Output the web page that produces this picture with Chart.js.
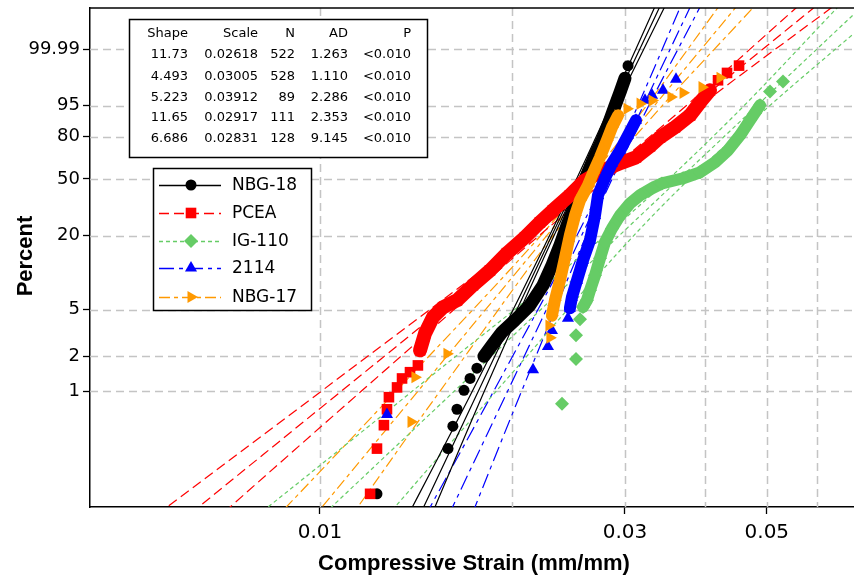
<!DOCTYPE html>
<html>
<head>
<meta charset="utf-8">
<script src="https://cdn.jsdelivr.net/npm/chart.js@4.4.1/dist/chart.umd.min.js"></script>
<style>
  html, body { margin: 0; padding: 0; background: #fff; }
  #wrap { width: 854px; height: 577px; }
</style>
</head>
<body>
<div id="wrap"><canvas id="chart" width="854" height="577"></canvas></div>
<script>
// axis ticks + grid
const X_TICKS = [0.01, 0.03, 0.05];
const X_GRID = [0.01, 0.02, 0.03, 0.04, 0.05, 0.06];
const Y_TICKS = [1, 2, 5, 20, 50, 80, 95, 99.99];
const Y_LABELS = ['1', '2', '5', '20', '50', '80', '95', '99.99'];

const SERIES = ['NBG-18', 'PCEA', 'IG-110', '2114', 'NBG-17'];

// stats table
const TABLE_HEAD = ['Shape', 'Scale', 'N', 'AD', 'P'];
const SHAPE = ['11.73', '4.493', '5.223', '11.65', '6.686'];
const SCALE = ['0.02618', '0.03005', '0.03912', '0.02917', '0.02831'];
const COUNT = ['522', '528', '89', '111', '128'];
const AD = ['1.263', '1.110', '2.286', '2.353', '9.145'];
const PVAL = ['<0.010', '<0.010', '<0.010', '<0.010', '<0.010'];

// observed points [strain, percent]
const NBG18 = [[0.01228, 0.13], [0.01586, 0.32], [0.01614, 0.50], [0.01638, 0.70], [0.01680, 1.02],
  [0.01717, 1.29], [0.01760, 1.58], [0.01805, 2.00], [0.01858, 2.48], [0.01926, 3.21], [0.02018, 4.06],
  [0.02130, 5.43], [0.02233, 7.99], [0.02307, 11.7], [0.02374, 16.9], [0.02435, 24.1], [0.02506, 33.7],
  [0.02570, 43.8], [0.02626, 54.7], [0.02693, 67.1], [0.02762, 77.7], [0.02822, 86.8], [0.02884, 94.1],
  [0.02947, 98.0], [0.03000, 99.43], [0.03033, 99.87]];
const PCEA = [[0.01198, 0.13], [0.01228, 0.32], [0.01259, 0.51], [0.01273, 0.70], [0.01282, 0.89],
  [0.01320, 1.08], [0.01344, 1.29], [0.01383, 1.46], [0.01423, 1.67], [0.01434, 2.25], [0.01460, 3.14],
  [0.01502, 4.30], [0.01558, 5.23], [0.01638, 5.98], [0.01735, 7.99], [0.01845, 10.6], [0.01961, 14.6],
  [0.02093, 19.5], [0.02208, 25.3], [0.02314, 31.0], [0.02460, 39.4], [0.02597, 49.1], [0.02771, 56.2],
  [0.02947, 61.2], [0.03121, 65.6], [0.03283, 73.6], [0.03403, 79.6], [0.03592, 85.7], [0.03792, 91.5],
  [0.03931, 95.9], [0.04075, 98.28], [0.04194, 99.30], [0.04332, 99.68], [0.04524, 99.87]];
const IG110 = [[0.02391, 0.78], [0.02515, 1.90], [0.02515, 3.02], [0.02551, 4.14], [0.02579, 5.26],
  [0.02616, 6.0], [0.02645, 7.25], [0.02693, 9.65], [0.02742, 13.3], [0.02791, 17.8], [0.02863, 22.8],
  [0.02947, 28.5], [0.03055, 34.7], [0.03167, 39.4], [0.03307, 43.8], [0.03428, 47.0], [0.03698, 50.5],
  [0.03931, 54.7], [0.04149, 62.0], [0.04348, 70.7], [0.04540, 80.9], [0.04706, 89.3], [0.04879, 95.1],
  [0.05058, 98.1], [0.05300, 99.22]];
const G2114 = [[0.01273, 0.63], [0.02154, 1.53], [0.02273, 2.42], [0.02306, 3.32], [0.02443, 4.22],
  [0.02460, 5.12], [0.02478, 6.34], [0.02524, 8.78], [0.02579, 12.8], [0.02645, 18.5], [0.02693, 28.5],
  [0.02722, 39.4], [0.02791, 50.5], [0.02863, 61.2], [0.02947, 70.7], [0.03033, 80.9], [0.03121, 89.3],
  [0.03224, 96.4], [0.03307, 97.5], [0.03440, 98.3], [0.03605, 99.37]];
const NBG17 = [[0.01388, 0.545], [0.01408, 1.32], [0.01580, 2.10], [0.02289, 2.88], [0.02281, 3.66],
  [0.02306, 4.44], [0.02331, 5.98], [0.02374, 8.78], [0.02416, 13.3], [0.02460, 20.2], [0.02506, 28.5],
  [0.02551, 36.4], [0.02626, 45.7], [0.02673, 54.0], [0.02742, 65.6], [0.02811, 77.7], [0.02863, 85.7],
  [0.02926, 91.5], [0.03022, 94.0], [0.03167, 95.56], [0.03307, 96.34], [0.03540, 97.12], [0.03698, 97.9],
  [0.03959, 98.68], [0.04224, 99.455]];

// index ranges where the points merge into a solid band
const BAND = [[7, 25], [9, 31], [4, 23], [5, 17], [5, 18]];

// fitted line and 95% bounds (strain) at these percents
const FIT_PCT = [0.05, 1, 30, 90, 99.99999999];
const NBG18_FIT = [0.013695, 0.017687, 0.023977, 0.028109, 0.034206];
const NBG18_LO = [0.013069, 0.017309, 0.023805, 0.027857, 0.033596];
const NBG18_HI = [0.014351, 0.018073, 0.024150, 0.028363, 0.034828];
const PCEA_FIT = [0.005536, 0.010794, 0.023889, 0.036179, 0.060401];
const PCEA_LO = [0.004881, 0.010044, 0.023463, 0.035406, 0.056610];
const PCEA_HI = [0.006279, 0.011600, 0.024323, 0.036969, 0.064446];
const IG110_FIT = [0.009129, 0.016214, 0.032113, 0.045893, 0.071319];
const IG110_LO = [0.007095, 0.013938, 0.030755, 0.043953, 0.065414];
const IG110_HI = [0.011746, 0.018861, 0.033531, 0.047919, 0.077757];
const G2114_FIT = [0.015191, 0.019654, 0.026700, 0.031335, 0.038183];
const G2114_LO = [0.013883, 0.018688, 0.026318, 0.030776, 0.036832];
const G2114_HI = [0.016622, 0.020670, 0.027087, 0.031904, 0.039584];
const NBG17_FIT = [0.009083, 0.014228, 0.024265, 0.032071, 0.045256];
const NBG17_LO = [0.007865, 0.013144, 0.023832, 0.031273, 0.042415];
const NBG17_HI = [0.010490, 0.015401, 0.024706, 0.032890, 0.048287];

const OBS = [NBG18, PCEA, IG110, G2114, NBG17];
const FITS = [
  [NBG18_LO, NBG18_FIT, NBG18_HI],
  [PCEA_LO, PCEA_FIT, PCEA_HI],
  [IG110_LO, IG110_FIT, IG110_HI],
  [G2114_LO, G2114_FIT, G2114_HI],
  [NBG17_LO, NBG17_FIT, NBG17_HI]
];

const STYLE = [
  { color: '#000000', point: 'circle', r: 5.5, rot: 0, dash: [], band: 13 },
  { color: '#ff0000', point: 'rect', r: 7.5, rot: 0, dash: [10, 5], band: 14 },
  { color: '#66cc66', point: 'rectRot', r: 7, rot: 0, dash: [4, 3], band: 12 },
  { color: '#0000ff', point: 'triangle', r: 7, rot: 0, dash: [15, 5, 4, 5], band: 12 },
  { color: '#ff9900', point: 'triangle', r: 7, rot: 90, dash: [11, 4, 4, 4], band: 12 }
];

// weibull probability transform
function weib(p) { return Math.log(-Math.log(1 - p / 100)); }
function toPts(list) { return list.map(([s, p]) => ({ x: s, y: weib(p) })); }
function toCurve(xs) { return xs.map((s, i) => ({ x: s, y: weib(FIT_PCT[i]) })); }

const datasets = [];
SERIES.forEach((name, i) => {
  const st = STYLE[i];
  FITS[i].forEach(xs => {
    datasets.push({
      data: toCurve(xs),
      showLine: true,
      borderColor: st.color,
      borderWidth: 1.2,
      borderDash: st.dash,
      pointRadius: 0,
      fill: false,
      cubicInterpolationMode: 'monotone',
      order: 100 + i
    });
  });
  const p = toPts(OBS[i]);
  datasets.push({
    data: p.slice(BAND[i][0], BAND[i][1]),
    showLine: true,
    borderColor: st.color,
    borderWidth: st.band,
    borderJoinStyle: 'round',
    borderCapStyle: 'round',
    pointRadius: 0,
    order: 50 - i * 2
  });
  datasets.push({
    label: name,
    data: p,
    showLine: false,
    pointStyle: st.point,
    pointRotation: st.rot,
    pointRadius: st.r,
    backgroundColor: st.color,
    borderColor: st.color,
    borderWidth: 0,
    order: 49 - i * 2
  });
});

function marker(ctx, st, x, y) {
  const r = st.r;
  ctx.beginPath();
  if (st.point === 'circle') {
    ctx.arc(x, y, r, 0, Math.PI * 2);
  } else if (st.point === 'rect') {
    const h = r * Math.SQRT1_2;
    ctx.rect(x - h, y - h, 2 * h, 2 * h);
  } else if (st.point === 'rectRot') {
    ctx.moveTo(x, y - r); ctx.lineTo(x + r, y); ctx.lineTo(x, y + r); ctx.lineTo(x - r, y);
  } else {
    let a = st.rot * Math.PI / 180;
    for (let k = 0; k < 3; k++) {
      const px = x + Math.sin(a) * r, py = y - Math.cos(a) * r;
      if (k === 0) ctx.moveTo(px, py); else ctx.lineTo(px, py);
      a += Math.PI * 2 / 3;
    }
  }
  ctx.closePath();
  ctx.fillStyle = st.color;
  ctx.fill();
}

// no label overhang padding, chart area fixed by axis sizes
function noPad(s) {
  s.paddingTop = 0; s.paddingBottom = 0; s.paddingLeft = 0; s.paddingRight = 0;
}

const decor = {
  id: 'decor',
  beforeDatasetsDraw(chart) {
    const { ctx, chartArea: a, scales } = chart;
    ctx.save();
    ctx.strokeStyle = '#c4c4c4';
    ctx.lineWidth = 1.5;
    ctx.setLineDash([8, 5]);
    X_GRID.forEach(v => {
      const px = Math.round(scales.x.getPixelForValue(v)) + 0.5;
      ctx.beginPath(); ctx.moveTo(px, a.top); ctx.lineTo(px, a.bottom); ctx.stroke();
    });
    Y_TICKS.forEach(p => {
      const py = Math.round(scales.y.getPixelForValue(weib(p))) + 0.5;
      ctx.beginPath(); ctx.moveTo(a.left, py); ctx.lineTo(a.right, py); ctx.stroke();
    });
    ctx.restore();
  },
  afterDatasetsDraw(chart) {
    const { ctx, chartArea: a } = chart;
    ctx.save();
    // top frame
    ctx.strokeStyle = '#000';
    ctx.lineWidth = 1.5;
    ctx.beginPath(); ctx.moveTo(a.left, a.top); ctx.lineTo(a.right + 1, a.top); ctx.stroke();

    // stats table
    ctx.fillStyle = '#fff';
    ctx.fillRect(129, 19, 299, 138);
    ctx.strokeRect(129.5, 19.5, 298, 138);
    ctx.fillStyle = '#000';
    ctx.font = '13px "DejaVu Sans"';
    ctx.textAlign = 'right';
    ctx.textBaseline = 'middle';
    const colX = [188, 258, 295, 348, 411];
    const rowY = [34, 55, 77, 98, 118, 139];
    TABLE_HEAD.forEach((h, c) => ctx.fillText(h, colX[c], rowY[0]));
    for (let r = 0; r < 5; r++) {
      [SHAPE[r], SCALE[r], COUNT[r], AD[r], PVAL[r]].forEach((t, c) => ctx.fillText(t, colX[c], rowY[r + 1]));
    }

    // legend
    ctx.fillStyle = '#fff';
    ctx.fillRect(153, 168, 159, 143);
    ctx.strokeRect(153.5, 168.5, 158, 142);
    ctx.font = '17px "DejaVu Sans"';
    ctx.textAlign = 'left';
    const legY = [185, 213, 241, 268, 297];
    SERIES.forEach((name, i) => {
      const st = STYLE[i];
      ctx.strokeStyle = st.color;
      ctx.lineWidth = 1.3;
      ctx.setLineDash(st.dash);
      ctx.beginPath(); ctx.moveTo(159, legY[i] + 0.5); ctx.lineTo(221, legY[i] + 0.5); ctx.stroke();
      ctx.setLineDash([]);
      marker(ctx, st, 191, legY[i]);
      ctx.fillStyle = '#000';
      ctx.fillText(name, 232, legY[i] + 1);
    });

    // axis titles
    ctx.font = 'bold 22px "Liberation Sans"';
    ctx.textAlign = 'center';
    ctx.fillText('Compressive Strain (mm/mm)', 474, 564);
    ctx.translate(26, 256);
    ctx.rotate(-Math.PI / 2);
    ctx.fillText('Percent', 0, 0);
    ctx.restore();
  }
};

new Chart(document.getElementById('chart'), {
  type: 'scatter',
  data: { datasets },
  plugins: [decor],
  options: {
    responsive: false,
    animation: false,
    events: [],
    layout: { autoPadding: false, padding: { top: 8, right: 1, left: 0, bottom: 0 } },
    plugins: { legend: { display: false }, tooltip: { enabled: false } },
    scales: {
      x: {
        type: 'logarithmic',
        min: 0.0043684,
        max: 0.068196,
        afterFit: s => { s.height = 70; noPad(s); },
        afterBuildTicks: s => { s.ticks = X_TICKS.map(v => ({ value: v })); },
        ticks: {
          autoSkip: false,
          maxRotation: 0,
          padding: 7,
          color: '#000',
          font: { family: 'DejaVu Sans', size: 20 },
          callback: v => String(v)
        },
        grid: { display: true, drawOnChartArea: false, tickLength: 7, tickColor: '#000', tickWidth: 1.3 },
        border: { display: true, color: '#000', width: 1.5 }
      },
      y: {
        type: 'linear',
        min: weib(0.1),
        max: 3.043,
        afterFit: s => { s.width = 90; noPad(s); },
        afterBuildTicks: s => { s.ticks = Y_TICKS.map(p => ({ value: weib(p) })); },
        ticks: {
          autoSkip: false,
          padding: 3,
          color: '#000',
          font: { family: 'DejaVu Sans', size: 18 },
          callback: (v, i) => Y_LABELS[i]
        },
        grid: { display: true, drawOnChartArea: false, tickLength: 7, tickColor: '#000', tickWidth: 1.3 },
        border: { display: true, color: '#000', width: 1.5 }
      }
    }
  }
});
</script>
</body>
</html>
